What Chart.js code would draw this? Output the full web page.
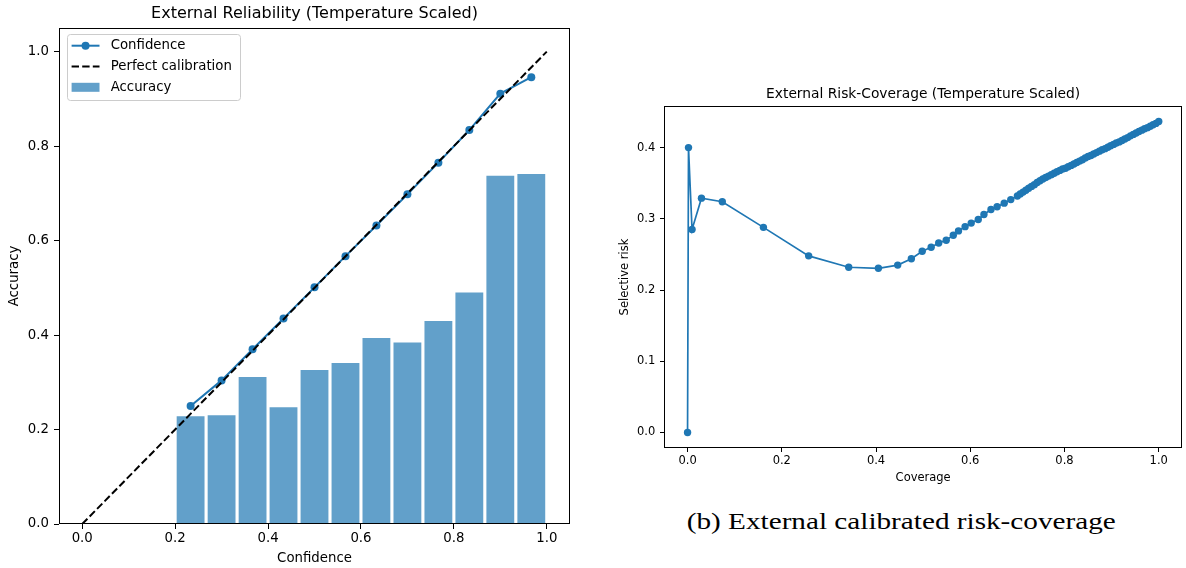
<!DOCTYPE html>
<html><head><meta charset="utf-8">
<script src="https://cdn.jsdelivr.net/npm/chart.js@4.4.1/dist/chart.umd.min.js"></script>
<style>
html,body{margin:0;padding:0;background:#fff;width:1186px;height:568px;overflow:hidden;position:relative;}
#c1{position:absolute;left:0;top:0;}
#c2{position:absolute;left:600px;top:80px;}
#cap{position:absolute;left:601.7px;top:508.6px;width:600px;text-align:center;font-family:"Liberation Serif",serif;font-size:24px;line-height:24px;color:#000;white-space:nowrap;}
#cap span{display:inline-block;transform:scaleX(1.217);transform-origin:50% 50%;}
</style></head><body>
<canvas id="c1" width="595" height="568"></canvas>
<canvas id="c2" width="586" height="410"></canvas>
<div id="cap"><span>(b) External calibrated risk-coverage</span></div>
<script>
// ---------- data: reliability diagram ----------
const binCenters = [0.2333, 0.3, 0.3667, 0.4333, 0.5, 0.5667, 0.6333, 0.7, 0.7667, 0.8333, 0.9, 0.9667];
const confidence = [0.250, 0.304, 0.370, 0.435, 0.501, 0.567, 0.632, 0.698, 0.765, 0.834, 0.911, 0.946];
const accuracy   = [0.228, 0.230, 0.311, 0.247, 0.326, 0.341, 0.394, 0.384, 0.430, 0.490, 0.737, 0.741];
const perfectX = [0, 1];
const perfectY = [0, 1];
const relTicksX = [0.0, 0.2, 0.4, 0.6, 0.8, 1.0];
const relTicksY = [0.0, 0.2, 0.4, 0.6, 0.8, 1.0];

// ---------- data: risk-coverage ----------
const coverage = [0.0, 0.002, 0.0095, 0.0295, 0.0737, 0.161, 0.257, 0.342, 0.405, 0.446, 0.475, 0.498,
  0.517, 0.533, 0.549, 0.564, 0.575, 0.589, 0.602, 0.617, 0.629, 0.644, 0.657, 0.672, 0.686, 0.700,
  0.706, 0.712, 0.718, 0.724, 0.730, 0.736, 0.742, 0.748, 0.754, 0.760, 0.766, 0.772, 0.778, 0.784,
  0.790, 0.796, 0.802, 0.808, 0.814, 0.820, 0.826, 0.832, 0.838, 0.844, 0.850, 0.856, 0.862, 0.868,
  0.874, 0.880, 0.886, 0.892, 0.898, 0.904, 0.910, 0.916, 0.922, 0.928, 0.934, 0.940, 0.946, 0.952,
  0.958, 0.964, 0.970, 0.976, 0.982, 0.988, 0.994, 1.000];
const risk = [0.0, 0.400, 0.285, 0.329, 0.324, 0.288, 0.248, 0.232, 0.2305, 0.235, 0.244, 0.2545,
  0.260, 0.266, 0.270, 0.277, 0.283, 0.289, 0.294, 0.299, 0.306, 0.313, 0.317, 0.322, 0.327, 0.332,
  0.335, 0.3375, 0.340, 0.343, 0.3455, 0.348, 0.351, 0.3535, 0.356, 0.358, 0.360, 0.362, 0.364, 0.366,
  0.368, 0.370, 0.371, 0.373, 0.375, 0.377, 0.379, 0.381, 0.383, 0.3855, 0.3875, 0.389, 0.391, 0.393,
  0.395, 0.397, 0.3985, 0.4005, 0.4025, 0.4045, 0.4065, 0.408, 0.410, 0.412, 0.414, 0.4165, 0.4185, 0.4205,
  0.4225, 0.4245, 0.4265, 0.428, 0.430, 0.432, 0.434, 0.4366];
const rcTicksX = [0.0, 0.2, 0.4, 0.6, 0.8, 1.0];
const rcTicksY = [0.0, 0.1, 0.2, 0.3, 0.4];

const BLUE = '#1f77b4';
const FONT = 'DejaVu Sans';

const framePlugin = {
  id: 'frame',
  afterDatasetsDraw(chart) {
    const {ctx, chartArea: a} = chart;
    ctx.save();
    ctx.strokeStyle = '#000';
    ctx.lineWidth = 1;
    ctx.strokeRect(Math.round(a.left) + 0.5, Math.round(a.top) + 0.5,
      Math.round(a.right - a.left) - 1, Math.round(a.bottom - a.top) - 1);
    ctx.restore();
  }
};

const innerLegend = {
  id: 'innerLegend',
  afterDraw(chart) {
    const {ctx, chartArea: a} = chart;
    const x0 = Math.round(a.left) + 8, y0 = Math.round(a.top) + 6, w = 173, h = 66;
    ctx.save();
    ctx.beginPath();
    if (ctx.roundRect) ctx.roundRect(x0 + 0.5, y0 + 0.5, w, h, 3); else ctx.rect(x0 + 0.5, y0 + 0.5, w, h);
    ctx.fillStyle = 'rgba(255,255,255,0.8)';
    ctx.fill();
    ctx.strokeStyle = '#cccccc';
    ctx.lineWidth = 1;
    ctx.stroke();
    const ds = chart.data.datasets;
    const hx0 = x0 + 4.6, hx1 = x0 + 32.5;
    ds.forEach((d, i) => {
      const ry = y0 + 11.7 + i * 20.8;
      if (d.type === 'line') {
        ctx.beginPath();
        ctx.setLineDash(d.borderDash || []);
        ctx.strokeStyle = d.borderColor;
        ctx.lineWidth = d.borderWidth;
        ctx.moveTo(hx0, ry); ctx.lineTo(hx1, ry);
        ctx.stroke();
        ctx.setLineDash([]);
        if (d.pointRadius > 0) {
          ctx.beginPath();
          ctx.fillStyle = d.pointBackgroundColor;
          ctx.arc((hx0 + hx1) / 2, ry, d.pointRadius, 0, Math.PI * 2);
          ctx.fill();
        }
      } else {
        ctx.fillStyle = d.backgroundColor;
        ctx.fillRect(hx0, ry - 4.5, hx1 - hx0, 9);
      }
      ctx.fillStyle = '#000';
      ctx.font = '13.3px "' + FONT + '"';
      ctx.textBaseline = 'middle';
      ctx.textAlign = 'left';
      ctx.fillText(d.label, x0 + 43.7, ry);
    });
    ctx.restore();
  }
};

function axis(opts) {
  return {
    type: 'linear', min: opts.min, max: opts.max, offset: false,
    afterBuildTicks: s => { s.ticks = opts.ticks.map(v => ({value: v})); },
    afterFit: s => { if (opts.width !== undefined) s.width = opts.width; if (opts.height !== undefined) s.height = opts.height; },
    grid: {display: true, drawOnChartArea: false, drawTicks: true, tickLength: opts.tl, color: '#000', tickColor: '#000', offset: false, lineWidth: 1},
    border: {display: false},
    ticks: {padding: opts.pad, color: '#000', font: {family: FONT, size: opts.fs}, maxRotation: 0, autoSkip: false,
      callback: v => Number(v).toFixed(1)},
    title: {display: true, text: opts.title, color: '#000', font: {family: FONT, size: opts.fs}, padding: opts.tpad}
  };
}

new Chart(document.getElementById('c1'), {
  type: 'bar',
  data: {
    datasets: [
      {type: 'line', label: 'Confidence', data: binCenters.map((x, i) => ({x: x, y: confidence[i]})),
        borderColor: BLUE, borderWidth: 2, pointRadius: 4, pointBackgroundColor: BLUE, pointBorderWidth: 0,
        pointHoverRadius: 4, tension: 0, fill: false, order: 1},
      {type: 'line', label: 'Perfect calibration', data: perfectX.map((x, i) => ({x: x, y: perfectY[i]})),
        borderColor: '#000', borderWidth: 2, borderDash: [7.4, 3.2], pointRadius: 0, tension: 0, fill: false, order: 0},
      {type: 'bar', label: 'Accuracy', data: binCenters.map((x, i) => ({x: x, y: accuracy[i]})),
        backgroundColor: 'rgba(31,119,180,0.7)', borderWidth: 0, barPercentage: 0.9, categoryPercentage: 1.0, order: 2}
    ]
  },
  options: {
    responsive: false, animation: false, devicePixelRatio: 1,
    layout: {padding: {left: 0, right: 25, top: 0, bottom: 0}},
    plugins: {
      legend: {display: false}, tooltip: {enabled: false},
      title: {display: true, text: 'External Reliability (Temperature Scaled)', color: '#000', fullSize: false,
        font: {family: FONT, size: 16, weight: 'normal'}, padding: {top: 4.4, bottom: 4.4}}
    },
    scales: {
      x: axis({min: -0.05, max: 1.05, ticks: relTicksX, height: 44, tl: 5, pad: 1.3, fs: 13.3, title: 'Confidence', tpad: {top: 0, bottom: 1.7}}),
      y: axis({min: 0, max: 1.05, ticks: relTicksY, width: 59, tl: 5, pad: 5, fs: 13.3, title: 'Accuracy', tpad: {top: 6.5, bottom: 0}})
    }
  },
  plugins: [framePlugin, innerLegend]
});

new Chart(document.getElementById('c2'), {
  type: 'line',
  data: {
    datasets: [
      {label: 'Risk-coverage', data: coverage.map((x, i) => ({x: x, y: risk[i]})),
        borderColor: BLUE, borderWidth: 1.7, pointRadius: 3.7, pointBackgroundColor: BLUE, pointBorderWidth: 0,
        pointHoverRadius: 3.7, tension: 0, fill: false}
    ]
  },
  options: {
    responsive: false, animation: false, devicePixelRatio: 1,
    layout: {padding: {left: 0, right: 1, top: 0, bottom: 0}},
    plugins: {
      legend: {display: false}, tooltip: {enabled: false},
      title: {display: true, text: 'External Risk-Coverage (Temperature Scaled)', color: '#000', fullSize: false,
        font: {family: FONT, size: 13.8, weight: 'normal'}, padding: {top: 5.72, bottom: 3.72}}
    },
    scales: {
      x: axis({min: -0.05, max: 1.05, ticks: rcTicksX, height: 42, tl: 4, pad: 1.8, fs: 11.5, title: 'Coverage', tpad: {top: 0, bottom: 5.4}}),
      y: axis({min: -0.0218, max: 0.4584, ticks: rcTicksY, width: 64, tl: 4, pad: 4.7, fs: 11.5, title: 'Selective risk', tpad: {top: 18.5, bottom: 0}})
    }
  },
  plugins: [framePlugin]
});
</script>
</body></html>
